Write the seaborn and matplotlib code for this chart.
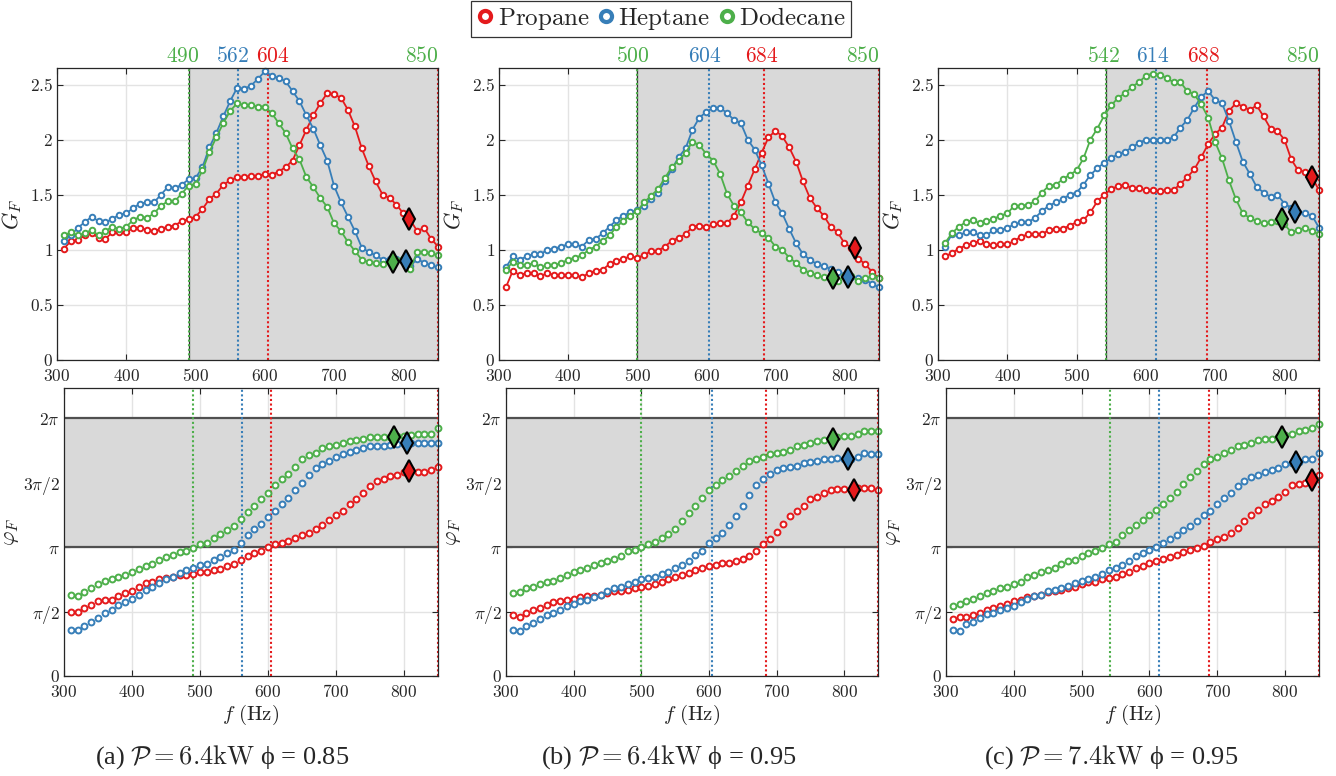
import numpy as np
import pandas as pd
import matplotlib
matplotlib.use('Agg')
import matplotlib.pyplot as plt
import matplotlib.transforms as mtransforms
from matplotlib.lines import Line2D
from matplotlib.ticker import FixedLocator, FuncFormatter
import seaborn as sns

# ---------------- data ----------------
fuels = ['Propane', 'Heptane', 'Dodecane']
colors = ['#e41a1c', '#377eb8', '#4daf4a']
freq = list(range(310, 851, 10))
captions = [r'(a) $\mathcal{P}=6.4\mathrm{kW}$ ϕ = 0.85',
            r'(b) $\mathcal{P}=6.4\mathrm{kW}$ ϕ = 0.95',
            r'(c) $\mathcal{P}=7.4\mathrm{kW}$ ϕ = 0.95']

# band start (dodecane), heptane line, propane line, band end
band_start = [490, 500, 542]
line_heptane = [562, 604, 614]
line_propane = [604, 684, 688]
band_end = 850

gain_a_propane = [1.01, 1.08, 1.09, 1.13, 1.15, 1.11, 1.10, 1.16, 1.16, 1.16, 1.20, 1.20, 1.18, 1.17, 1.19, 1.21, 1.22, 1.26, 1.28, 1.30,
                  1.37, 1.46, 1.51, 1.59, 1.63, 1.66, 1.66, 1.67, 1.67, 1.69, 1.68, 1.71, 1.75, 1.81, 1.95, 2.09, 2.22, 2.33, 2.42, 2.41,
                  2.38, 2.27, 2.12, 1.92, 1.76, 1.62, 1.50, 1.47, 1.41, 1.33, 1.27, 1.17, 1.20, 1.10, 1.03]
gain_a_heptane = [1.08, 1.13, 1.20, 1.25, 1.30, 1.26, 1.25, 1.28, 1.32, 1.33, 1.38, 1.42, 1.43, 1.43, 1.50, 1.57, 1.56, 1.59, 1.64, 1.65,
                  1.75, 1.93, 2.06, 2.21, 2.35, 2.47, 2.46, 2.49, 2.55, 2.62, 2.58, 2.56, 2.53, 2.44, 2.35, 2.22, 2.10, 1.95, 1.81, 1.58,
                  1.43, 1.30, 1.17, 1.02, 0.98, 0.95, 0.91, 0.92, 0.92, 0.90, 0.85, 0.92, 0.88, 0.86, 0.84]
gain_a_dodecane = [1.13, 1.16, 1.13, 1.15, 1.18, 1.13, 1.17, 1.21, 1.19, 1.21, 1.27, 1.30, 1.29, 1.33, 1.40, 1.44, 1.44, 1.51, 1.58, 1.60,
                   1.72, 1.89, 2.02, 2.15, 2.26, 2.33, 2.31, 2.31, 2.30, 2.30, 2.24, 2.15, 2.06, 1.92, 1.82, 1.66, 1.57, 1.47, 1.39, 1.24,
                   1.17, 1.07, 0.99, 0.91, 0.89, 0.88, 0.87, 0.89, 0.91, 0.92, 0.83, 0.98, 0.98, 0.97, 0.95]

gain_b_propane = [0.66, 0.81, 0.77, 0.79, 0.79, 0.76, 0.79, 0.77, 0.77, 0.77, 0.77, 0.75, 0.79, 0.81, 0.82, 0.87, 0.90, 0.92, 0.94, 0.93,
                  0.95, 0.99, 0.99, 1.03, 1.08, 1.11, 1.14, 1.21, 1.22, 1.21, 1.23, 1.24, 1.24, 1.31, 1.43, 1.58, 1.73, 1.88, 2.02, 2.08,
                  2.03, 1.93, 1.80, 1.62, 1.47, 1.38, 1.31, 1.21, 1.16, 1.06, 1.02, 0.92, 0.87, 0.80, 0.74]
gain_b_heptane = [0.84, 0.94, 0.91, 0.94, 0.96, 0.96, 1.00, 1.01, 1.03, 1.05, 1.05, 1.03, 1.09, 1.10, 1.15, 1.21, 1.27, 1.31, 1.34, 1.36,
                  1.40, 1.46, 1.52, 1.62, 1.73, 1.84, 1.92, 2.09, 2.20, 2.25, 2.29, 2.29, 2.24, 2.18, 2.15, 2.00, 1.91, 1.77, 1.60, 1.43,
                  1.33, 1.19, 1.06, 0.96, 0.91, 0.87, 0.85, 0.83, 0.80, 0.77, 0.75, 0.74, 0.73, 0.69, 0.66]
gain_b_dodecane = [0.82, 0.89, 0.86, 0.86, 0.88, 0.84, 0.86, 0.86, 0.88, 0.91, 0.93, 0.95, 1.00, 1.03, 1.08, 1.13, 1.21, 1.26, 1.31, 1.35,
                   1.43, 1.49, 1.55, 1.65, 1.75, 1.81, 1.88, 1.98, 1.95, 1.87, 1.81, 1.69, 1.51, 1.40, 1.34, 1.25, 1.19, 1.15, 1.11, 1.03,
                   1.00, 0.93, 0.88, 0.82, 0.79, 0.77, 0.75, 0.74, 0.72, 0.76, 0.76, 0.72, 0.74, 0.76, 0.74]

gain_c_propane = [0.94, 0.97, 1.01, 1.04, 1.06, 1.08, 1.05, 1.04, 1.05, 1.05, 1.08, 1.12, 1.14, 1.14, 1.14, 1.18, 1.19, 1.19, 1.22, 1.25,
                  1.27, 1.34, 1.44, 1.50, 1.55, 1.58, 1.59, 1.56, 1.56, 1.54, 1.54, 1.53, 1.54, 1.54, 1.60, 1.66, 1.73, 1.84, 1.96, 2.05,
                  2.11, 2.26, 2.33, 2.30, 2.27, 2.31, 2.21, 2.10, 2.08, 2.00, 1.82, 1.72, 1.71, 1.66, 1.54]
gain_c_heptane = [1.03, 1.14, 1.13, 1.16, 1.16, 1.13, 1.13, 1.18, 1.18, 1.20, 1.23, 1.25, 1.25, 1.29, 1.35, 1.40, 1.43, 1.46, 1.50, 1.52,
                  1.59, 1.68, 1.74, 1.79, 1.83, 1.87, 1.89, 1.93, 1.97, 2.00, 2.00, 2.00, 2.00, 2.02, 2.11, 2.18, 2.29, 2.39, 2.44, 2.36,
                  2.33, 2.17, 1.98, 1.80, 1.69, 1.57, 1.52, 1.48, 1.50, 1.42, 1.38, 1.34, 1.33, 1.31, 1.20]
gain_c_dodecane = [1.06, 1.15, 1.21, 1.25, 1.27, 1.24, 1.26, 1.28, 1.31, 1.33, 1.40, 1.40, 1.41, 1.44, 1.52, 1.58, 1.59, 1.64, 1.68, 1.72,
                   1.83, 2.00, 2.10, 2.22, 2.31, 2.38, 2.42, 2.48, 2.52, 2.58, 2.60, 2.59, 2.56, 2.52, 2.52, 2.44, 2.41, 2.32, 2.20, 1.98,
                   1.83, 1.63, 1.46, 1.33, 1.29, 1.26, 1.24, 1.25, 1.26, 1.23, 1.16, 1.18, 1.20, 1.17, 1.14]

# phase in units of pi
phase_a_propane = [0.50, 0.50, 0.53, 0.55, 0.58, 0.59, 0.59, 0.62, 0.64, 0.66, 0.69, 0.72, 0.73, 0.75, 0.76, 0.77, 0.78, 0.78, 0.79, 0.81,
                   0.81, 0.82, 0.83, 0.85, 0.87, 0.90, 0.93, 0.95, 0.97, 1.00, 1.02, 1.03, 1.05, 1.07, 1.09, 1.11, 1.14, 1.17, 1.21, 1.25,
                   1.28, 1.33, 1.37, 1.42, 1.47, 1.51, 1.53, 1.55, 1.56, 1.58, 1.60, 1.58, 1.58, 1.60, 1.62]
phase_a_heptane = [0.36, 0.36, 0.39, 0.42, 0.45, 0.49, 0.51, 0.55, 0.57, 0.60, 0.63, 0.67, 0.69, 0.72, 0.75, 0.77, 0.80, 0.82, 0.84, 0.86,
                   0.87, 0.90, 0.92, 0.95, 0.98, 1.03, 1.09, 1.14, 1.18, 1.23, 1.28, 1.33, 1.38, 1.44, 1.50, 1.56, 1.61, 1.64, 1.67, 1.70,
                   1.72, 1.74, 1.75, 1.77, 1.78, 1.78, 1.78, 1.79, 1.80, 1.80, 1.81, 1.81, 1.81, 1.81, 1.81]
phase_a_dodecane = [0.63, 0.62, 0.65, 0.68, 0.71, 0.74, 0.75, 0.77, 0.78, 0.81, 0.83, 0.85, 0.87, 0.90, 0.92, 0.94, 0.96, 0.97, 0.99, 1.02,
                    1.03, 1.07, 1.10, 1.13, 1.16, 1.22, 1.27, 1.32, 1.37, 1.42, 1.48, 1.53, 1.57, 1.62, 1.68, 1.71, 1.73, 1.77, 1.78, 1.79,
                    1.81, 1.82, 1.83, 1.84, 1.85, 1.85, 1.85, 1.85, 1.86, 1.86, 1.87, 1.88, 1.88, 1.88, 1.92]

phase_b_propane = [0.47, 0.46, 0.49, 0.51, 0.53, 0.55, 0.57, 0.58, 0.59, 0.60, 0.61, 0.62, 0.62, 0.63, 0.64, 0.66, 0.66, 0.67, 0.68, 0.69,
                   0.70, 0.71, 0.73, 0.75, 0.77, 0.78, 0.80, 0.82, 0.84, 0.85, 0.86, 0.88, 0.88, 0.89, 0.91, 0.93, 0.97, 1.02, 1.06, 1.12,
                   1.18, 1.24, 1.28, 1.32, 1.37, 1.39, 1.42, 1.44, 1.45, 1.45, 1.44, 1.46, 1.46, 1.46, 1.44]
phase_b_heptane = [0.36, 0.35, 0.39, 0.41, 0.44, 0.47, 0.49, 0.51, 0.54, 0.56, 0.58, 0.59, 0.61, 0.63, 0.66, 0.68, 0.69, 0.71, 0.73, 0.75,
                   0.76, 0.77, 0.79, 0.81, 0.84, 0.86, 0.89, 0.94, 0.97, 1.03, 1.07, 1.11, 1.17, 1.24, 1.32, 1.40, 1.48, 1.53, 1.57, 1.60,
                   1.61, 1.62, 1.63, 1.65, 1.66, 1.67, 1.68, 1.68, 1.69, 1.68, 1.68, 1.70, 1.73, 1.72, 1.72]
phase_b_dodecane = [0.64, 0.65, 0.68, 0.69, 0.71, 0.73, 0.74, 0.76, 0.78, 0.81, 0.82, 0.84, 0.86, 0.88, 0.89, 0.91, 0.93, 0.97, 0.98, 1.00,
                    1.02, 1.04, 1.07, 1.10, 1.14, 1.20, 1.26, 1.32, 1.38, 1.44, 1.48, 1.52, 1.55, 1.59, 1.63, 1.67, 1.68, 1.70, 1.72, 1.73,
                    1.74, 1.75, 1.78, 1.79, 1.81, 1.82, 1.83, 1.84, 1.85, 1.86, 1.86, 1.88, 1.90, 1.90, 1.90]

phase_c_propane = [0.44, 0.46, 0.46, 0.47, 0.49, 0.51, 0.53, 0.54, 0.56, 0.58, 0.59, 0.61, 0.62, 0.63, 0.65, 0.66, 0.67, 0.68, 0.69, 0.71,
                   0.73, 0.73, 0.75, 0.76, 0.77, 0.79, 0.81, 0.84, 0.85, 0.88, 0.89, 0.91, 0.92, 0.94, 0.96, 0.98, 0.99, 1.01, 1.04, 1.06,
                   1.08, 1.11, 1.15, 1.20, 1.25, 1.29, 1.33, 1.36, 1.39, 1.43, 1.48, 1.49, 1.50, 1.52, 1.56]
phase_c_heptane = [0.36, 0.35, 0.40, 0.42, 0.45, 0.48, 0.49, 0.51, 0.53, 0.54, 0.57, 0.60, 0.62, 0.63, 0.66, 0.67, 0.68, 0.70, 0.72, 0.74,
                   0.75, 0.77, 0.79, 0.82, 0.84, 0.86, 0.89, 0.93, 0.95, 0.98, 1.00, 1.03, 1.06, 1.09, 1.13, 1.16, 1.20, 1.25, 1.28, 1.33,
                   1.38, 1.42, 1.47, 1.51, 1.54, 1.56, 1.58, 1.60, 1.61, 1.64, 1.65, 1.66, 1.68, 1.68, 1.73]
phase_c_dodecane = [0.54, 0.56, 0.58, 0.60, 0.62, 0.64, 0.66, 0.68, 0.69, 0.71, 0.73, 0.77, 0.78, 0.81, 0.82, 0.84, 0.87, 0.89, 0.90, 0.93,
                    0.95, 0.97, 0.99, 1.02, 1.04, 1.09, 1.13, 1.17, 1.21, 1.25, 1.29, 1.33, 1.38, 1.43, 1.49, 1.54, 1.59, 1.64, 1.68, 1.70,
                    1.73, 1.75, 1.78, 1.79, 1.81, 1.83, 1.84, 1.84, 1.85, 1.87, 1.88, 1.90, 1.91, 1.92, 1.95]

# highlighted points (propane, heptane, dodecane)
diamond_f_a = [808, 804, 785]
diamond_gain_a = [1.28, 0.90, 0.89]
diamond_phase_a = [1.59, 1.81, 1.85]
diamond_f_b = [815, 805, 783]
diamond_gain_b = [1.02, 0.75, 0.74]
diamond_phase_b = [1.44, 1.68, 1.84]
diamond_f_c = [840, 816, 796]
diamond_gain_c = [1.66, 1.34, 1.28]
diamond_phase_c = [1.52, 1.66, 1.85]

gain_ticks = [0, 0.5, 1, 1.5, 2, 2.5]
phase_ticks = [0, 0.5, 1, 1.5, 2]
phase_tick_labels = ['$0$', r'$\pi/2$', r'$\pi$', r'$3\pi/2$', r'$2\pi$']

# ---------------- style ----------------
sns.set_style('ticks')
plt.rcParams['mathtext.fontset'] = 'cm'
plt.rcParams['font.family'] = ['DejaVu Serif']

W, H = 1336, 776
fig = plt.figure(figsize=(W / 100, H / 100), dpi=100)

def rect(l, r, t, b):
    return [l / W, 1 - b / H, (r - l) / W, (b - t) / H]

top_rects = [rect(57, 438, 68, 360), rect(499, 879, 68, 360), rect(938, 1319, 68, 360)]
bot_rects = [rect(64, 438, 388, 676), rect(506, 878, 388, 676), rect(946, 1319, 388, 676)]
label_nudge = [(-8, -9, 8), (-6, -6, -3), (-3, -4, -5)]
caption_x = [222, 669, 1111]

gains = [[gain_a_propane, gain_a_heptane, gain_a_dodecane],
         [gain_b_propane, gain_b_heptane, gain_b_dodecane],
         [gain_c_propane, gain_c_heptane, gain_c_dodecane]]
phases = [[phase_a_propane, phase_a_heptane, phase_a_dodecane],
          [phase_b_propane, phase_b_heptane, phase_b_dodecane],
          [phase_c_propane, phase_c_heptane, phase_c_dodecane]]
dfs = [diamond_f_a, diamond_f_b, diamond_f_c]
dgs = [diamond_gain_a, diamond_gain_b, diamond_gain_c]
dps = [diamond_phase_a, diamond_phase_b, diamond_phase_c]

num_fmt = FuncFormatter(lambda v, p: f'${v:g}$')
dot = (0, (1.0, 1.2))
spine_c = '#262626'
band_c = '#d9d9d9'


def style_axes(ax):
    ax.set_xlim(300, 850)
    ax.xaxis.set_major_locator(FixedLocator([300, 400, 500, 600, 700, 800]))
    ax.xaxis.set_major_formatter(num_fmt)
    ax.grid(True, color='#e3e3e3', lw=1.0)
    ax.set_axisbelow(True)
    ax.tick_params(direction='in', top=True, right=True, length=4, width=0.8,
                   color=spine_c, labelsize=12.5)
    ax.tick_params(axis='x', pad=6)
    ax.tick_params(axis='y', pad=3)
    for s in ax.spines.values():
        s.set_color(spine_c)
        s.set_linewidth(0.9)
        s.set_zorder(6)


for k in range(3):
    # ---- gain ----
    ax = fig.add_axes(top_rects[k])
    ax.axvspan(band_start[k], band_end, color=band_c, lw=0, zorder=1)
    ax.axvline(band_start[k], color='#303030', lw=0.9, zorder=1.5)
    for xv, c in [(band_start[k], colors[2]), (line_heptane[k], colors[1]),
                  (line_propane[k], colors[0]), (band_end, colors[0])]:
        ax.axvline(xv, color=c, ls=dot, lw=1.5, zorder=2)
    for g, c in zip(gains[k], colors):
        d = pd.DataFrame({'f': freq, 'G': g})
        sns.lineplot(data=d, x='f', y='G', ax=ax, color=c, linewidth=1.3, marker='o',
                     markersize=4.0, markerfacecolor='white', markeredgecolor=c,
                     markeredgewidth=1.4, sort=False, legend=False, zorder=3, clip_on=False)
    for fx, gy, c in zip(dfs[k], dgs[k], colors):
        ax.plot([fx], [gy], ls='', marker='d', ms=11, mfc=c, mec='black', mew=1.5,
                zorder=5, clip_on=False)
    ax.set_ylim(0, 2.65)
    ax.yaxis.set_major_locator(FixedLocator(gain_ticks))
    ax.yaxis.set_major_formatter(num_fmt)
    style_axes(ax)
    ax.set_xlabel('')
    ax.set_ylabel('$G_F$', fontsize=16, labelpad=4)
    tr = mtransforms.blended_transform_factory(ax.transData, ax.transAxes)
    nd = label_nudge[k]
    ax.text(band_start[k] + nd[0], 1.005, f'${band_start[k]}$', color=colors[2], fontsize=15.5,
            ha='center', va='bottom', transform=tr)
    ax.text(line_heptane[k] + nd[1], 1.005, f'${line_heptane[k]}$', color=colors[1], fontsize=15.5,
            ha='center', va='bottom', transform=tr)
    ax.text(line_propane[k] + nd[2], 1.005, f'${line_propane[k]}$', color=colors[0], fontsize=15.5,
            ha='center', va='bottom', transform=tr)
    ax.text(band_end + 1, 1.005, f'${band_end}$', color=colors[2], fontsize=15.5,
            ha='right', va='bottom', transform=tr)

    # ---- phase ----
    ax = fig.add_axes(bot_rects[k])
    ax.axhspan(1, 2, color=band_c, lw=0, zorder=1)
    ax.axhline(1, color='#505050', lw=1.6, zorder=1.5)
    ax.axhline(2, color='#505050', lw=1.6, zorder=1.5)
    for xv, c in [(band_start[k], colors[2]), (line_heptane[k], colors[1]),
                  (line_propane[k], colors[0]), (band_end, colors[0])]:
        ax.axvline(xv, color=c, ls=dot, lw=1.5, zorder=2)
    for p, c in zip(phases[k], colors):
        d = pd.DataFrame({'f': freq, 'phi': p})
        sns.scatterplot(data=d, x='f', y='phi', ax=ax, color='white', edgecolor=c,
                        linewidth=1.4, s=18, marker='o', legend=False, zorder=3, clip_on=False)
    for fx, py, c in zip(dfs[k], dps[k], colors):
        ax.plot([fx], [py], ls='', marker='d', ms=11, mfc=c, mec='black', mew=1.5,
                zorder=5, clip_on=False)
    ax.set_ylim(0, 2.233)
    ax.yaxis.set_major_locator(FixedLocator(phase_ticks))
    ax.set_yticklabels(phase_tick_labels)
    style_axes(ax)
    ax.set_xlabel(r'$f\ \mathrm{(Hz)}$', fontsize=15, labelpad=1)
    ax.set_ylabel(r'$\varphi_F$', fontsize=16, labelpad=1)

    fig.text(caption_x[k] / W, 1 - 757 / H, captions[k], ha='center', va='center',
             fontsize=19, family=['Liberation Serif', 'DejaVu Serif'])

handles = [Line2D([], [], ls='', marker='o', ms=8, mfc='white', mec=c, mew=3.0) for c in colors]
leg = fig.legend(handles, [rf'$\mathrm{{{f}}}$' for f in fuels], loc='upper center',
                 bbox_to_anchor=(661 / W, 1 - 1 / H), ncol=3, fontsize=18, frameon=True,
                 fancybox=False, edgecolor='#333333', framealpha=1, handlelength=0.7,
                 handletextpad=0.15, columnspacing=0.3, borderpad=0.2, borderaxespad=0)
leg.get_frame().set_linewidth(0.9)

fig.savefig('out.png', dpi=100)
